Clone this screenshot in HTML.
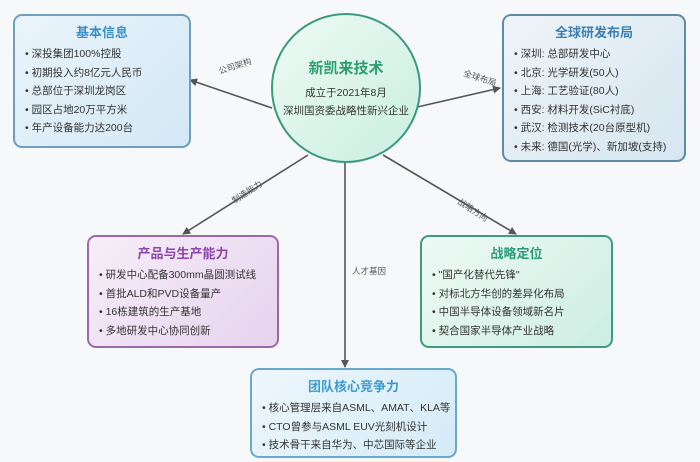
<!DOCTYPE html>
<html><head><meta charset="utf-8"><style>
html,body{margin:0;padding:0;}
body{width:700px;height:462px;background:#f7f8f9;position:relative;overflow:hidden;font-family:"Liberation Sans","Noto Sans CJK SC",sans-serif;}
.box{position:absolute;border-radius:9px;box-sizing:border-box;border:2px solid;}
.box h3{margin:0;text-align:center;font-size:13px;font-weight:bold;}
.box ul{list-style:none;margin:0;padding:0;}
.box li{font-size:10.5px;color:#333;height:18.5px;line-height:18.5px;}
.box li:before{content:"• ";}
.lbl{position:absolute;font-size:8.5px;color:#555;white-space:nowrap;}
</style></head><body>
<svg width="700" height="462" style="position:absolute;left:0;top:0">
<defs><marker id="a" markerWidth="8" markerHeight="8" refX="7" refY="4" orient="auto" markerUnits="userSpaceOnUse"><path d="M0,0 L8,4 L0,8 z" fill="#555"/></marker></defs>
<g stroke="#555" stroke-width="1.6" fill="none">
<line x1="272" y1="108" x2="190" y2="80" marker-end="url(#a)"/>
<line x1="413" y1="108" x2="500" y2="88" marker-end="url(#a)"/>
<line x1="308" y1="155" x2="183" y2="234" marker-end="url(#a)"/>
<line x1="383" y1="155" x2="516" y2="234" marker-end="url(#a)"/>
<line x1="345" y1="162" x2="345" y2="367" marker-end="url(#a)"/>
</g>
<defs><linearGradient id="cg" x1="0" y1="0" x2="1" y2="1"><stop offset="0" stop-color="#eefaf5"/><stop offset="1" stop-color="#c9efe0"/></linearGradient></defs>
<circle cx="346" cy="88" r="74" fill="url(#cg)" stroke="#3a9a7c" stroke-width="2"/>
<text x="346" y="73" text-anchor="middle" font-size="15" font-weight="bold" fill="#2e9e6e" font-family="Liberation Sans,Noto Sans CJK SC,sans-serif">新凯来技术</text>
<text x="346" y="96" text-anchor="middle" font-size="10.5" fill="#333" font-family="Liberation Sans,Noto Sans CJK SC,sans-serif">成立于2021年8月</text>
<text x="346" y="114" text-anchor="middle" font-size="10.5" fill="#333" font-family="Liberation Sans,Noto Sans CJK SC,sans-serif">深圳国资委战略性新兴企业</text>
</svg>
<div class="lbl" style="left:218px;top:60px;transform:rotate(-18deg)">公司架构</div>
<div class="lbl" style="left:463px;top:72px;transform:rotate(18deg)">全球布局</div>
<div class="lbl" style="left:230px;top:186px;transform:rotate(-33deg)">制造能力</div>
<div class="lbl" style="left:456px;top:204px;transform:rotate(33deg)">战略方向</div>
<div class="lbl" style="left:352px;top:265px">人才基因</div>

<div class="box" style="left:13px;top:14px;width:178px;height:134px;border-color:#6f9ec0;background:linear-gradient(135deg,#eaf4fb,#d3e8f5);padding:6px 0 0 10px">
<h3 style="color:#3d8fc8;margin-right:10px">基本信息</h3>
<ul style="margin-top:4px"><li>深投集团100%控股</li><li>初期投入约8亿元人民币</li><li>总部位于深圳龙岗区</li><li>园区占地20万平方米</li><li>年产设备能力达200台</li></ul></div>

<div class="box" style="left:502px;top:14px;width:184px;height:148px;border-color:#5f8aa8;background:linear-gradient(135deg,#eef4f9,#d6e6f0);padding:6px 0 0 10px">
<h3 style="color:#3d7fb5;margin-right:10px">全球研发布局</h3>
<ul style="margin-top:4px"><li>深圳: 总部研发中心</li><li>北京: 光学研发(50人)</li><li>上海: 工艺验证(80人)</li><li>西安: 材料开发(SiC衬底)</li><li>武汉: 检测技术(20台原型机)</li><li>未来: 德国(光学)、新加坡(支持)</li></ul></div>

<div class="box" style="left:87px;top:235px;width:192px;height:113px;border-color:#9a6aa8;background:linear-gradient(135deg,#f6eef8,#e6d3ee);padding:6px 0 0 10px">
<h3 style="color:#8e44ad;margin-right:10px">产品与生产能力</h3>
<ul style="margin-top:4px"><li>研发中心配备300mm晶圆测试线</li><li>首批ALD和PVD设备量产</li><li>16栋建筑的生产基地</li><li>多地研发中心协同创新</li></ul></div>

<div class="box" style="left:420px;top:235px;width:193px;height:113px;border-color:#3f9a80;background:linear-gradient(135deg,#eefaf5,#cdeee2);padding:6px 0 0 10px">
<h3 style="color:#2a9a78;margin-right:10px">战略定位</h3>
<ul style="margin-top:4px"><li>"国产化替代先锋"</li><li>对标北方华创的差异化布局</li><li>中国半导体设备领域新名片</li><li>契合国家半导体产业战略</li></ul></div>

<div class="box" style="left:250px;top:368px;width:207px;height:90px;border-color:#6aa8cc;background:linear-gradient(135deg,#eef7fc,#d4ebf7);padding:6px 0 0 10px">
<h3 style="color:#3d9ad0;margin-right:10px">团队核心竞争力</h3>
<ul style="margin-top:4px"><li>核心管理层来自ASML、AMAT、KLA等</li><li>CTO曾参与ASML EUV光刻机设计</li><li>技术骨干来自华为、中芯国际等企业</li></ul></div>
</body></html>
